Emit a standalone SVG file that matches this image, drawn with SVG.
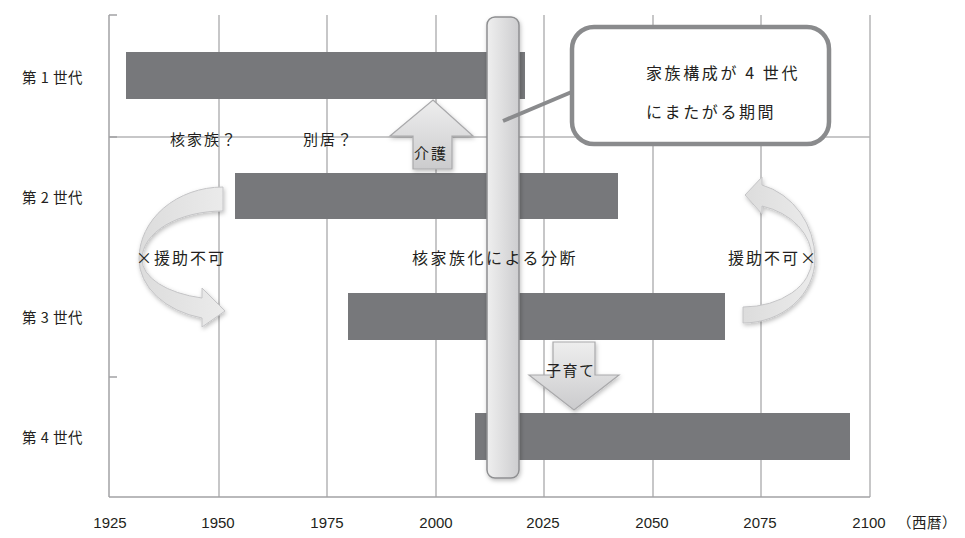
<svg xmlns="http://www.w3.org/2000/svg" width="965" height="538" viewBox="0 0 965 538">
<style>
.grid{stroke:#b4b4b6;stroke-width:1.5;fill:none}
.axis{stroke:#a2a2a4;stroke-width:1.5;fill:none}
.bar{fill:#77787b}
.t{font-family:"Noto Sans CJK JP","Noto Sans",sans-serif;fill:#231f20}
.lab{font-size:14.5px;letter-spacing:0.5px}
.yr{font-family:"Liberation Sans",Arial,sans-serif;font-size:15px;fill:#231f20;text-anchor:middle}
.mid{font-size:16px;letter-spacing:2.5px}
.q{font-size:15px;letter-spacing:2px}
.cl{font-size:16px;letter-spacing:2.6px}
.thick{stroke:#9fa0a2;stroke-width:6;fill:none}
.blk{fill:url(#arrG);stroke:#a9a9ab;stroke-width:1.2}
.curve{fill:url(#curG);stroke:#c4c4c6;stroke-width:1}
</style>
<defs>
<linearGradient id="barG" x1="0" y1="0" x2="1" y2="0">
<stop offset="0" stop-color="#efefef"/>
<stop offset="1" stop-color="#cdcdcf"/>
</linearGradient>
<linearGradient id="arrG" x1="0" y1="0" x2="0" y2="1">
<stop offset="0" stop-color="#eeeeee"/>
<stop offset="1" stop-color="#cbcbcd"/>
</linearGradient>
<linearGradient id="curG" x1="0" y1="0" x2="1" y2="0">
<stop offset="0" stop-color="#dcdcdc"/>
<stop offset="1" stop-color="#ebebeb"/>
</linearGradient>
<filter id="sh" x="-20%" y="-20%" width="140%" height="140%">
<feDropShadow dx="1" dy="2" stdDeviation="2" flood-color="#000" flood-opacity="0.25"/>
</filter>
</defs>

<g id="grid">
<line class="grid" x1="219" y1="15" x2="219" y2="497"/>
<line class="grid" x1="327" y1="15" x2="327" y2="497"/>
<line class="grid" x1="436" y1="15" x2="436" y2="497"/>
<line class="grid" x1="544" y1="15" x2="544" y2="497"/>
<line class="grid" x1="653" y1="15" x2="653" y2="497"/>
<line class="grid" x1="761" y1="15" x2="761" y2="497"/>
<line class="grid" x1="870" y1="15" x2="870" y2="497"/>
<line class="grid" x1="109" y1="137" x2="870" y2="137"/>
<line class="axis" x1="109" y1="497" x2="870" y2="497"/>
<line class="axis" x1="109" y1="15" x2="109" y2="497"/>
<line class="axis" x1="109" y1="15" x2="117" y2="15"/>
<line class="axis" x1="109" y1="137" x2="117" y2="137"/>
<line class="axis" x1="109" y1="377" x2="117" y2="377"/>
</g>

<g id="axis-labels">
<text class="t lab" x="22" y="83">第 1 世代</text>
<text class="t lab" x="22" y="203">第 2 世代</text>
<text class="t lab" x="22" y="323">第 3 世代</text>
<text class="t lab" x="22" y="443">第 4 世代</text>
<text class="yr" x="110" y="528">1925</text>
<text class="yr" x="218" y="528">1950</text>
<text class="yr" x="327" y="528">1975</text>
<text class="yr" x="436" y="528">2000</text>
<text class="yr" x="543" y="528">2025</text>
<text class="yr" x="652" y="528">2050</text>
<text class="yr" x="760" y="528">2075</text>
<text class="yr" x="869" y="528">2100</text>
<text class="t lab" x="897" y="528">（西暦）</text>
</g>

<g id="gen1"><rect class="bar" x="126" y="52" width="399" height="47"/></g>
<g id="gen2"><rect class="bar" x="235" y="173" width="383" height="46"/></g>
<g id="gen3"><rect class="bar" x="348" y="293" width="377" height="47"/></g>
<g id="gen4"><rect class="bar" x="475" y="413" width="375" height="47"/></g>

<g id="divide-line" filter="url(#sh)">
<line class="thick" x1="113" y1="258" x2="137" y2="258"/>
<line class="thick" x1="229" y1="258" x2="411" y2="258"/>
<line class="thick" x1="580" y1="258" x2="727" y2="258"/>
<line class="thick" x1="820" y1="258" x2="877" y2="258"/>
</g>

<g id="care-arrow" filter="url(#sh)">
<path class="blk" d="M433 100 L473 136 L452 136 L452 169 L413 169 L413 136 L390 136 Z"/>
</g>
<g id="care-label"><text class="t q" x="414" y="159">介護</text></g>

<g id="child-arrow" filter="url(#sh)">
<path class="blk" d="M553 342 L595 342 L595 375 L619 375 L574 410 L529 375 L553 375 Z"/>
</g>
<g id="child-label"><text class="t q" x="546" y="376" style="letter-spacing:1.5px">子育て</text></g>

<g id="left-curve" filter="url(#sh)">
<path class="curve" d="M223 187 A84 72 0 0 0 139 259 A84 61 0 0 0 202 318 L202 327 L225 311 L202 288 L202 298 A81 40 0 0 1 142 259 A81 48 0 0 1 223 211 Z"/>
</g>
<g id="left-label"><text class="t mid" x="136" y="264" style="letter-spacing:2px">×援助不可</text></g>

<g id="right-curve" filter="url(#sh)">
<path class="curve" d="M743 323 A72 64 0 0 0 815 259 A72 77 0 0 0 762 185 L762 177 L745 195 L762 214 L762 206 A69 55 0 0 1 812 259 A69 48 0 0 1 743 307 Z"/>
</g>
<g id="right-label"><text class="t mid" x="728" y="264" style="letter-spacing:2px">援助不可×</text></g>

<g id="labels-q">
<text class="t q" x="170" y="145">核家族？</text>
<text class="t q" x="303" y="145">別居？</text>
</g>

<g id="period-bar" filter="url(#sh)">
<rect x="487" y="17" width="32" height="461" rx="8" fill="url(#barG)" stroke="#8e8f91" stroke-width="1.5"/>
</g>

<g id="divide-label">
<text class="t mid" x="412" y="264">核家族化による分断</text>
</g>

<g id="connectors">
<line x1="503" y1="121" x2="574" y2="91" stroke="#8a8b8d" stroke-width="4"/>
</g>

<g id="callout">
<rect x="572" y="27" width="257" height="117" rx="22" fill="#fff" stroke="#8a8b8d" stroke-width="4.5"/>
<text class="t cl" x="646" y="79">家族構成が 4 世代</text>
<text class="t cl" x="646" y="118">にまたがる期間</text>
</g>
</svg>
